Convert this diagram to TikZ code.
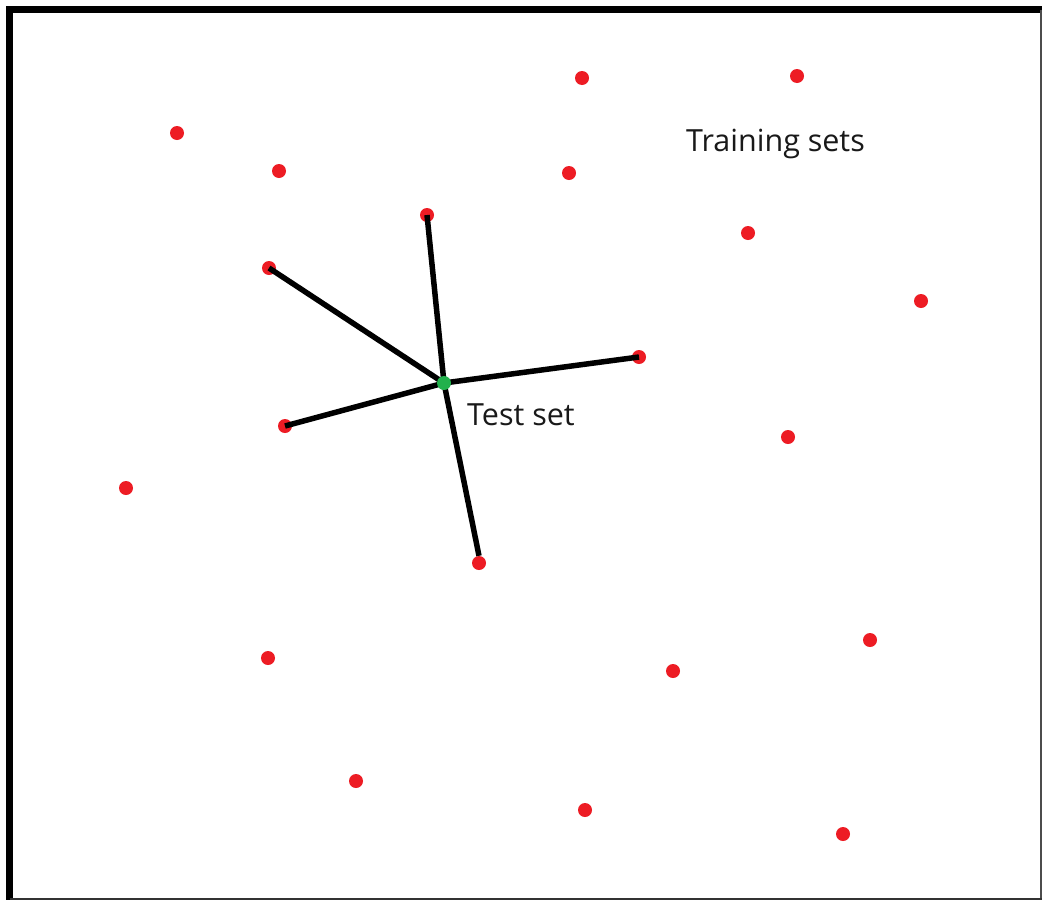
\documentclass[tikz,border=0pt]{standalone}
\usepackage{fontspec}
\setmainfont{Open Sans}
\definecolor{dotred}{RGB}{237,28,36}
\definecolor{dotgreen}{RGB}{34,177,76}
\begin{document}
\begin{tikzpicture}[x=1pt,y=-1pt,
  reddot/.style={circle,fill=dotred,inner sep=0pt,minimum size=14pt},
  greendot/.style={circle,fill=dotgreen,inner sep=0pt,minimum size=14pt},
  link/.style={line width=5.5pt,black},
  lbl/.style={font=\fontsize{30.5}{36}\selectfont,text=black!90,inner sep=0pt}]
\useasboundingbox (0,0) rectangle (1042,900);
\fill[white] (0,0) rectangle (1042,900);
% frame
\draw[line width=7pt] (9.5,900) -- (9.5,9.5) -- (1042,9.5);
\draw[line width=2pt,black!70] (1040.5,9.5) -- (1040.5,900);
\draw[line width=2pt,black!80] (9.5,898.5) -- (1042,898.5);
% training points
\node[reddot] (p1) at (582,78) {};
\node[reddot] (p2) at (797,76) {};
\node[reddot] (p3) at (177,133) {};
\node[reddot] (p4) at (279,171) {};
\node[reddot] (p5) at (569,173) {};
\node[reddot] (p6) at (427,215) {};
\node[reddot] (p7) at (748,233) {};
\node[reddot] (p8) at (269,268) {};
\node[reddot] (p9) at (921,301) {};
\node[reddot] (p10) at (639,357) {};
\node[reddot] (p11) at (285,426) {};
\node[reddot] (p12) at (788,437) {};
\node[reddot] (p13) at (126,488) {};
\node[reddot] (p14) at (479,563) {};
\node[reddot] (p15) at (870,640) {};
\node[reddot] (p16) at (268,658) {};
\node[reddot] (p17) at (673,671) {};
\node[reddot] (p18) at (356,781) {};
\node[reddot] (p19) at (585,810) {};
\node[reddot] (p20) at (843,834) {};
% test point
\coordinate (t) at (444,383);
\draw[link] (t) -- (p6.center);
\draw[link] (t) -- (p8.center);
\draw[link] (t) -- (p10.center);
\draw[link] (t) -- (p11.center);
\draw[link] (t) -- (p14.north);
\node[greendot] (test) at (t) {};
% labels
\node[lbl,anchor=base west] (lt) at (686,151) {Training sets};
\node[lbl,anchor=base west] (ls) at (467,425) {Test set};
\end{tikzpicture}
\end{document}
